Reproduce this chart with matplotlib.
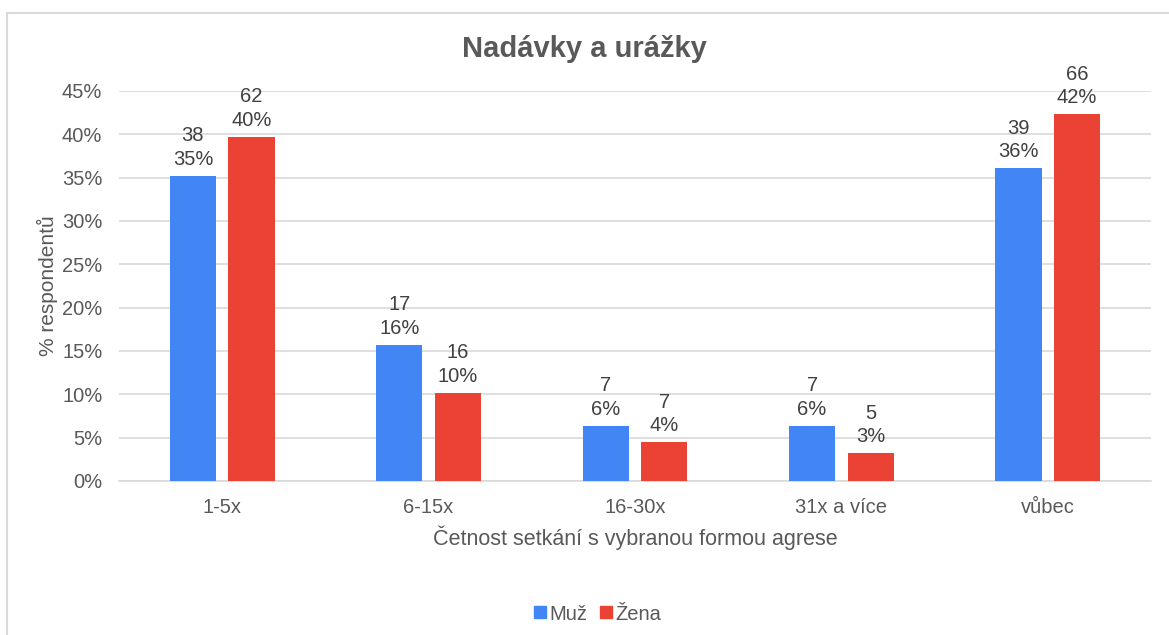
import numpy as np
import matplotlib.pyplot as plt
from matplotlib.lines import Line2D

plt.rcParams['font.family'] = ['Liberation Sans', 'DejaVu Sans']

# Data
kategorie = ['1-5x', '6-15x', '16-30x', '31x a více', 'vůbec']
muz_pocet = [38, 17, 7, 7, 39]
zena_pocet = [62, 16, 7, 5, 66]
muz_pct = [35.2, 15.7, 6.4, 6.4, 36.1]
zena_pct = [39.7, 10.2, 4.5, 3.2, 42.3]

modra = '#4285F4'
cervena = '#EA4335'
text_col = '#595959'
grid_col = '#d9d9d9'

fig = plt.figure(figsize=(11.69, 6.35), dpi=100)
ax = fig.add_axes([119 / 1169, 1 - 481 / 635, (1151 - 119) / 1169, (481 - 91) / 635])

x = np.arange(len(kategorie))
w = 0.223
off = 0.142
b1 = ax.bar(x - off, muz_pct, w, color=modra, label='Muž', zorder=3)
b2 = ax.bar(x + off, zena_pct, w, color=cervena, label='Žena', zorder=3)

for bars, counts, pcts in [(b1, muz_pocet, muz_pct), (b2, zena_pocet, zena_pct)]:
    for r, c, p in zip(bars, counts, pcts):
        ax.annotate(f'{c}\n{p:.0f}%', (r.get_x() + r.get_width() / 2, r.get_height()),
                    xytext=(0, 5), textcoords='offset points', ha='center', va='bottom',
                    fontsize=14.5, color='#404040', linespacing=1.3)

ax.set_xlim(-0.5, len(kategorie) - 0.5)
ax.set_ylim(0, 45)
ax.set_yticks(np.arange(0, 46, 5))
ax.set_yticklabels([f'{v}%' for v in range(0, 46, 5)])
ax.set_xticks(x)
ax.set_xticklabels(kategorie)
ax.tick_params(axis='both', length=0, labelsize=14.5, labelcolor=text_col)
ax.tick_params(axis='x', pad=12)
ax.tick_params(axis='y', pad=12)
ax.yaxis.grid(True, color=grid_col, linewidth=1.2, zorder=0)
for s in ['top', 'right', 'left']:
    ax.spines[s].set_visible(False)
ax.spines['bottom'].set_color(grid_col)
ax.spines['bottom'].set_linewidth(1.2)

ax.set_ylabel('% respondentů', fontsize=15, color=text_col, labelpad=3)
ax.set_xlabel('Četnost setkání s vybranou formou agrese', fontsize=15.5, color=text_col, labelpad=6)

fig.text(0.5, 1 - 49 / 635, 'Nadávky a urážky', ha='center', va='center',
         fontsize=21, fontweight='bold', color=text_col)

handles = [Line2D([], [], marker='s', linestyle='', color=modra, markersize=9, label='Muž'),
           Line2D([], [], marker='s', linestyle='', color=cervena, markersize=9, label='Žena')]
leg = fig.legend(handles=handles, loc='center', bbox_to_anchor=(597 / 1169, 1 - 614 / 635),
                 ncol=2, frameon=False, fontsize=14.5, handletextpad=0.1, columnspacing=0.6,
                 handlelength=0.7)
for t in leg.get_texts():
    t.set_color(text_col)

# chart frame
fig.add_artist(Line2D([7 / 1169, 1], [1 - 13 / 635, 1 - 13 / 635], color=grid_col, linewidth=1.5))
fig.add_artist(Line2D([7 / 1169, 7 / 1169], [0, 1 - 13 / 635], color=grid_col, linewidth=1.5))

plt.savefig('out.png', dpi=100)
